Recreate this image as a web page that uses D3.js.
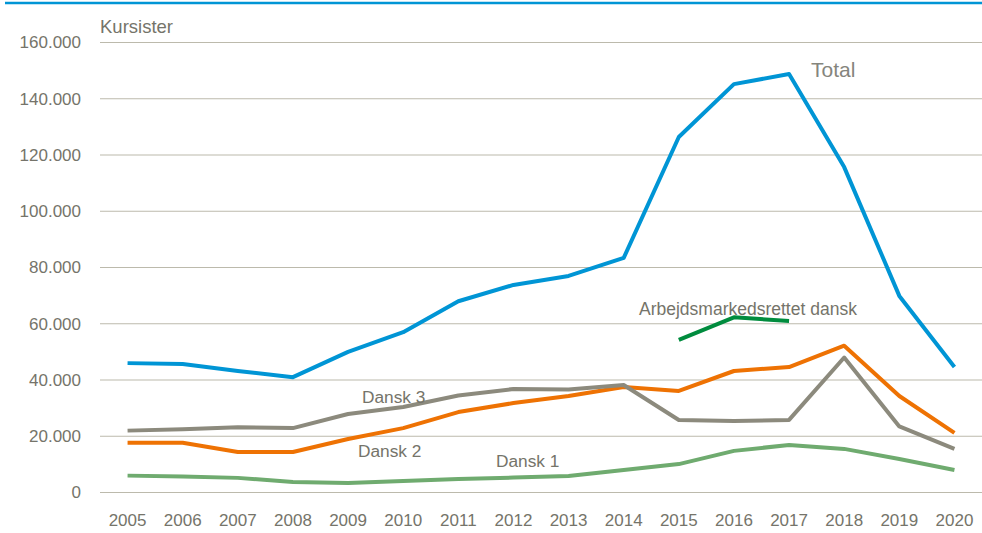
<!DOCTYPE html>
<html>
<head>
<meta charset="utf-8">
<script src="https://cdn.jsdelivr.net/npm/d3@7"></script>
<style>
  body { margin: 0; background: #fff; }
  text { font-family: "Liberation Sans", Arial, sans-serif; fill: #75746a; }
</style>
</head>
<body>
<svg id="chart" width="982" height="533"></svg>
<script>
// data
const years = ["2005","2006","2007","2008","2009","2010","2011","2012","2013","2014","2015","2016","2017","2018","2019","2020"];
const total  = [46000,45700,43200,41000,50000,57000,68000,73800,77000,83400,126400,145200,148800,115700,69900,44600];
const dansk3 = [22000,22500,23200,22900,27900,30400,34500,36800,36600,38200,25800,25400,25800,48000,23500,15500];
const dansk2 = [17700,17700,14400,14400,19000,22900,28600,31800,34300,37500,36100,43200,44600,52200,34300,21200];
const dansk1 = [6000,5700,5200,3700,3400,4100,4800,5300,5900,8000,10100,14800,16900,15500,11900,8000];
const arbejd = [null,null,null,null,null,null,null,null,null,null,54300,62300,61000,null,null,null];
const yTicks = [0,20000,40000,60000,80000,100000,120000,140000,160000];

const series = [
  { name: "Dansk 1", values: dansk1, color: "#6fab6f" },
  { name: "Dansk 2", values: dansk2, color: "#ee7203" },
  { name: "Dansk 3", values: dansk3, color: "#8c8a7d" },
  { name: "Arbejdsmarkedsrettet dansk", values: arbejd, color: "#008c3e" },
  { name: "Total", values: total, color: "#0095d5" }
];

const svg = d3.select("#chart");
const plot = { left: 100, right: 982, top: 42.5, bottom: 492.5 };

const x = d3.scalePoint().domain(years).range([plot.left, plot.right]).padding(0.5);
const y = d3.scaleLinear().domain([0, 160000]).range([plot.bottom, plot.top]);
const fmt = v => d3.format(",")(v).replace(/,/g, ".");

// top rule
svg.append("line")
  .attr("x1", 5).attr("x2", 982).attr("y1", 3).attr("y2", 3)
  .attr("stroke", "#0095d5").attr("stroke-width", 2.5);

// gridlines
svg.append("g").selectAll("line")
  .data(yTicks).join("line")
  .attr("x1", plot.left).attr("x2", plot.right)
  .attr("y1", d => y(d)).attr("y2", d => y(d))
  .attr("stroke", "#bcbaac").attr("stroke-width", 1.2);

// y labels
svg.append("g").selectAll("text")
  .data(yTicks).join("text")
  .attr("x", 81).attr("y", d => y(d))
  .attr("dy", "0.35em")
  .attr("text-anchor", "end")
  .attr("font-size", 17)
  .text(d => d === 0 ? "0" : fmt(d));

// x labels
svg.append("g").selectAll("text")
  .data(years).join("text")
  .attr("x", d => x(d)).attr("y", 526)
  .attr("text-anchor", "middle")
  .attr("font-size", 17)
  .text(d => d);

svg.append("text")
  .attr("x", 100).attr("y", 33)
  .attr("font-size", 18.5)
  .text("Kursister");

// lines
const line = d3.line()
  .defined(d => d.v != null)
  .x(d => x(d.year))
  .y(d => y(d.v));

svg.append("g").selectAll("path")
  .data(series).join("path")
  .attr("fill", "none")
  .attr("stroke", d => d.color)
  .attr("stroke-width", 4)
  .attr("stroke-linejoin", "round")
  .attr("d", d => line(d.values.map((v, i) => ({ year: years[i], v }))));

// series labels
const labels = [
  { text: "Total", x: 811, y: 77, size: 21, color: "#85857d" },
  { text: "Arbejdsmarkedsrettet dansk", x: 639, y: 315, size: 17.5, color: "#75746a" },
  { text: "Dansk 3", x: 362, y: 403, size: 17.3, color: "#75746a" },
  { text: "Dansk 2", x: 358, y: 457, size: 17.3, color: "#75746a" },
  { text: "Dansk 1", x: 496, y: 467, size: 17.3, color: "#75746a" }
];
svg.append("g").selectAll("text")
  .data(labels).join("text")
  .attr("x", d => d.x).attr("y", d => d.y)
  .attr("font-size", d => d.size)
  .style("fill", d => d.color)
  .text(d => d.text);
</script>
</body>
</html>
